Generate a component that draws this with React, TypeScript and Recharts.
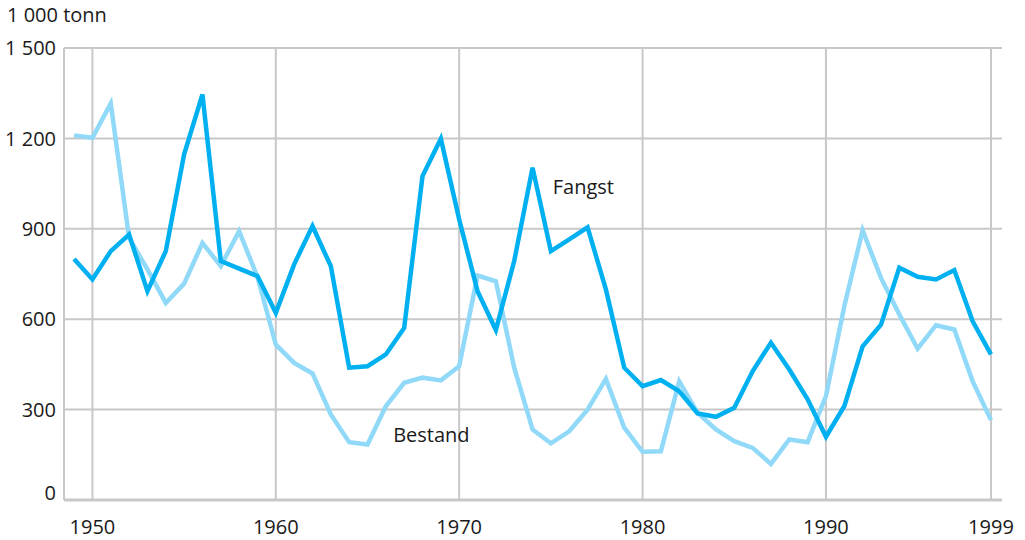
import React from 'react';
import { LineChart, Line, XAxis, YAxis, CartesianGrid, ReferenceDot } from 'recharts';

const years = [
  1949, 1950, 1951, 1952, 1953, 1954, 1955, 1956, 1957, 1958, 1959,
  1960, 1961, 1962, 1963, 1964, 1965, 1966, 1967, 1968, 1969,
  1970, 1971, 1972, 1973, 1974, 1975, 1976, 1977, 1978, 1979,
  1980, 1981, 1982, 1983, 1984, 1985, 1986, 1987, 1988, 1989,
  1990, 1991, 1992, 1993, 1994, 1995, 1996, 1997, 1998, 1999,
];

// Fangst (catch), 1 000 tonn
const fangst = [
  800, 732, 826, 881, 693, 826, 1147, 1346, 793, 768, 743,
  621, 782, 909, 776, 439, 444, 483, 571, 1075, 1199,
  931, 693, 564, 793, 1103, 826, 865, 905, 699, 439,
  378, 398, 361, 287, 276, 306, 427, 522, 433, 334,
  210, 311, 510, 582, 771, 741, 732, 763, 593, 483,
];

// Bestand (stock), 1 000 tonn
const bestand = [
  1210, 1202, 1316, 870, 765, 654, 718, 853, 776, 892, 740,
  516, 455, 420, 284, 192, 184, 311, 389, 406, 397,
  444, 745, 726, 439, 234, 188, 228, 300, 402, 240,
  160, 162, 394, 289, 234, 195, 173, 120, 201, 192,
  345, 643, 895, 737, 616, 502, 580, 566, 394, 265,
];

const xTicks = [1950, 1960, 1970, 1980, 1990, 1999];
const yTicks = [0, 300, 600, 900, 1200, 1500];

const data = years.map((year, i) => ({ year, fangst: fangst[i], bestand: bestand[i] }));

const FONT = '"Open Sans", "Noto Sans", sans-serif';
const TEXT = '#1a1a1a';
const GRID = '#c8c8c8';
const DARK = '#00b0f0';
const LIGHT = '#90d9f8';

const fmt = (v: number) => (v >= 1000 ? `${Math.floor(v / 1000)} ${String(v % 1000).padStart(3, '0')}` : String(v));

const YTick = ({ x, y, payload }: any) => {
  // the zero label sits a little above its line in the original
  const shift = payload.value === 0 ? -7 : 0;
  return (
    <text x={x + 1} y={y + shift} dy="0.36em" textAnchor="end" fill={TEXT} fontSize={20} fontFamily={FONT}>
      {fmt(payload.value)}
    </text>
  );
};

export default function App() {
  return (
    <div style={{ position: 'fixed', left: 0, top: 0, width: 1025, height: 540, background: '#fff' }}>
      <div
        style={{
          position: 'absolute', left: 7, top: 5, fontFamily: FONT, fontSize: 20,
          lineHeight: '20px', color: TEXT,
        }}
      >
        1 000 tonn
      </div>
      <LineChart width={1025} height={540} data={data} margin={{ top: 48, right: 23, left: 0, bottom: 10 }}>
        <CartesianGrid stroke={GRID} strokeWidth={2} horizontalValues={yTicks} verticalValues={xTicks} />
        <XAxis
          dataKey="year"
          type="number"
          domain={[1948.45, 1999.6]}
          ticks={xTicks}
          allowDataOverflow
          tickLine={false}
          tickSize={0}
          tickMargin={20}
          height={30}
          axisLine={{ stroke: GRID, strokeWidth: 3 }}
          tick={{ fill: TEXT, fontSize: 20, fontFamily: FONT }}
        />
        <YAxis
          type="number"
          domain={[0, 1500]}
          ticks={yTicks}
          width={64}
          tickLine={false}
          tickSize={0}
          tickMargin={9}
          axisLine={{ stroke: GRID, strokeWidth: 2 }}
          tick={<YTick />}
        />
        <Line
          type="linear"
          dataKey="bestand"
          stroke={LIGHT}
          strokeWidth={4.5}
          dot={false}
          isAnimationActive={false}
        />
        <Line
          type="linear"
          dataKey="fangst"
          stroke={DARK}
          strokeWidth={4.5}
          dot={false}
          isAnimationActive={false}
        />
        <ReferenceDot
          x={1975.1}
          y={1040}
          r={0}
          fill="none"
          stroke="none"
          label={{ value: 'Fangst', position: 'right', offset: 0, fill: TEXT, fontSize: 20, fontFamily: FONT }}
        />
        <ReferenceDot
          x={1966.4}
          y={217}
          r={0}
          fill="none"
          stroke="none"
          label={{ value: 'Bestand', position: 'right', offset: 0, fill: TEXT, fontSize: 20, fontFamily: FONT }}
        />
      </LineChart>
    </div>
  );
}
